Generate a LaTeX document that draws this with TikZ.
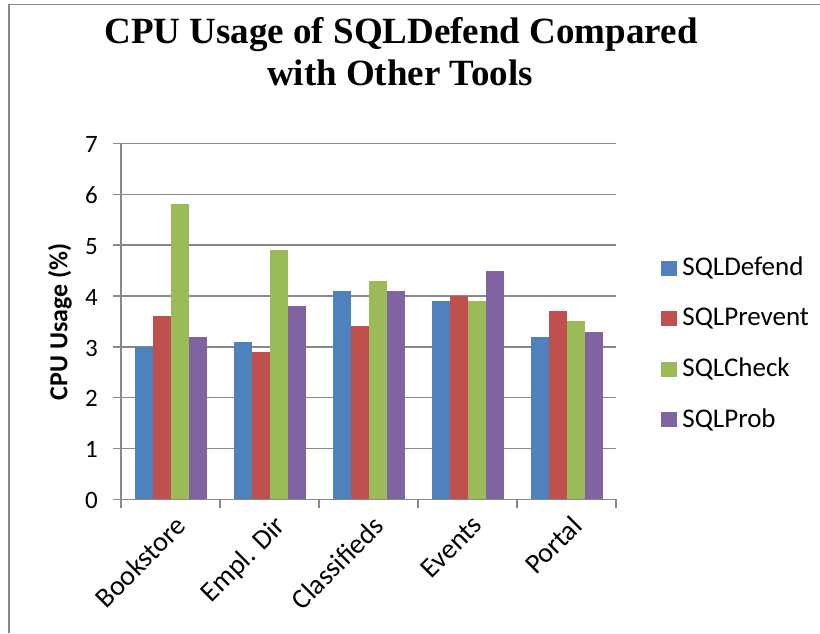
\documentclass[tikz,border=0pt]{standalone}
\usepackage{fontspec}
\setmainfont{Carlito}
\newfontfamily\titlefont{Liberation Serif}
\usetikzlibrary{positioning}
\definecolor{sqldefend}{HTML}{4F81BD}
\definecolor{sqlprevent}{HTML}{C0504D}
\definecolor{sqlcheck}{HTML}{9BBB59}
\definecolor{sqlprob}{HTML}{8064A2}
\definecolor{axisgray}{HTML}{888888}
\tikzset{
  gridline/.style={draw=axisgray, line width=1.4pt},
  charttitle/.style={font=\titlefont\bfseries\fontsize{37}{42}\selectfont, inner sep=0pt, anchor=base},
  ticklabel/.style={font=\fontsize{25}{30}\selectfont, inner sep=0pt},
  catlabel/.style={font=\fontsize{28}{32}\selectfont, inner sep=0pt, rotate=45, anchor=north east},
  legendkey/.style={minimum width=16pt, minimum height=15pt, inner sep=0pt},
  legendtext/.style={font=\fontsize{27}{32}\selectfont, inner sep=0pt, anchor=west},
}

\begin{document}
\begin{tikzpicture}[x=1pt,y=-1pt]
  \useasboundingbox (0,0) rectangle (820,633);
  % frame
  \draw[gridline] (9,633) -- (9,4.5) -- (820,4.5);
  % title
  \node[charttitle] (title) at (401,43) {CPU Usage of SQLDefend Compared};
  \node[charttitle] (title2) at (400,85) {with Other Tools};
  % grid and value labels
  \foreach \v in {1,...,7}
    \draw[gridline] (113,{499.3-50.83*\v}) -- (616,{499.3-50.83*\v});
  \foreach \v in {0,...,7}
    \node[ticklabel, anchor=east] (y\v) at (98,{500.5-50.83*\v}) {\v};
  \node[ticklabel, font=\bfseries\fontsize{26}{30}\selectfont, rotate=90] (ytitle) at (60,322) {CPU Usage (\%)};
  % bars
  \foreach \cat/\a/\b/\c/\d [count=\i from 0] in {Bookstore/3/3.6/5.8/3.2, Empl. Dir/3.1/2.9/4.9/3.8,
      Classifieds/4.1/3.4/4.3/4.1, Events/3.9/4.0/3.9/4.5, Portal/3.2/3.7/3.5/3.3} {
    \fill[sqldefend]  ({134.5+99*\i},499.3) rectangle ++(18,{-50.83*\a});
    \fill[sqlprevent] ({152.5+99*\i},499.3) rectangle ++(18,{-50.83*\b});
    \fill[sqlcheck]   ({170.5+99*\i},499.3) rectangle ++(18,{-50.83*\c});
    \fill[sqlprob]    ({188.5+99*\i},499.3) rectangle ++(18,{-50.83*\d});
    \node[catlabel] (x\i) at ({174+99*\i},514) {\cat};
  }
  % axes
  \draw[gridline] (113,499.3) -- (616,499.3);
  \draw[gridline] (121,143.5) -- (121,508);
  \foreach \i in {1,...,5}
    \draw[gridline] ({121+99*\i},499.3) -- ++(0,8.7);
  % legend
  \foreach \name/\col [count=\k from 0] in {SQLDefend/sqldefend, SQLPrevent/sqlprevent,
      SQLCheck/sqlcheck, SQLProb/sqlprob} {
    \node[legendkey, fill=\col] (key\k) at (669,{268+50.5*\k}) {};
    \node[legendtext, right=5pt of key\k] (leg\k) {\name};
  }
\end{tikzpicture}
\end{document}
